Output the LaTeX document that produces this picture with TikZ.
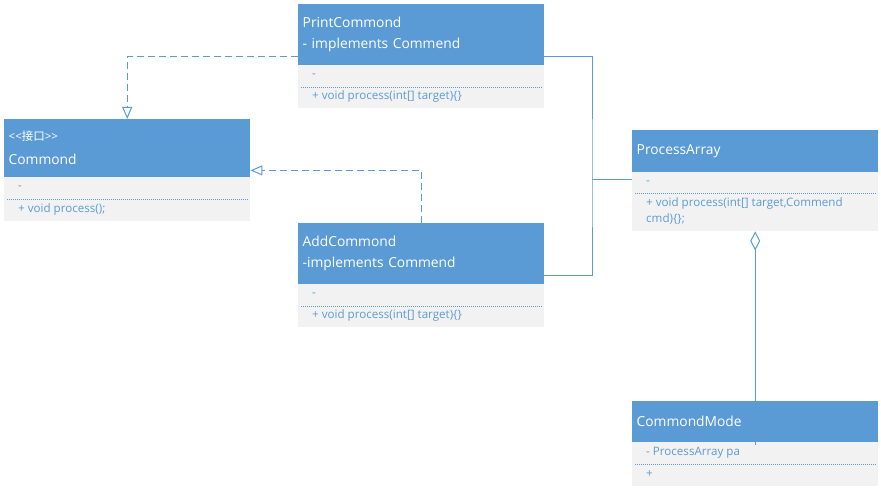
\documentclass[tikz,border=0pt]{standalone}
\usepackage{fontspec}
\setmainfont{Open Sans}
\newfontfamily\cjk{Noto Sans CJK SC}
\usetikzlibrary{arrows.meta}

\definecolor{hdblue}{HTML}{5B9BD5}
\definecolor{bdgray}{HTML}{F2F2F2}
\definecolor{lnblue}{HTML}{5B9BD5}

\tikzset{
  head/.style={anchor=north west, fill=hdblue, text=white, text width=237pt, inner xsep=4.5pt, inner ysep=0pt,
    minimum width=246pt, align=left, font=\fontsize{13.8}{21}\selectfont},
  body/.style={anchor=north west, fill=bdgray, minimum width=246pt, inner sep=0pt},
  member/.style={anchor=west, text=lnblue, inner sep=0pt, align=left, font=\fontsize{11.6}{16}\selectfont},
  sep/.style={lnblue, line width=0.8pt, dash pattern=on 1pt off 1pt},
  link/.style={lnblue, line width=1pt},
  realize/.style={link, dash pattern=on 7pt off 4pt, -{Triangle[open, length=12pt, width=10pt]}},
}

\begin{document}
\begin{tikzpicture}[x=1pt, y=-1pt]
        \useasboundingbox (0,0) rectangle (881,494);

        % interface Commond
        \node[head, minimum height=58pt] (commond) at (4,119)
          {{\fontsize{11.5}{12}\selectfont <{}<{\cjk 接口}>{}>}\\[3pt]Commond};
        \node[body, minimum height=44pt] (cmbody) at (4,177) {};
        \node[member] (cmattr) at ([xshift=14pt,yshift=-11pt]cmbody.north west) {-};
        \draw[sep] ([xshift=3pt,yshift=-22pt]cmbody.north west) -- ([xshift=-3pt,yshift=-22pt]cmbody.north east);
        \node[member] (cmop) at ([xshift=14pt,yshift=-32pt]cmbody.north west) {+ void process();};

        % PrintCommond
        \node[head, minimum height=61pt] (print) at (298,4) {PrintCommond\\- implements Commend};
        \node[body, minimum height=43pt] (printbody) at (298,65) {};
        \node[member] (printattr) at ([xshift=14pt,yshift=-11pt]printbody.north west) {-};
        \draw[sep] ([xshift=3pt,yshift=-22pt]printbody.north west) -- ([xshift=-3pt,yshift=-22pt]printbody.north east);
        \node[member] (printop) at ([xshift=14pt,yshift=-31pt]printbody.north west) {+ void process(int[] target)\{\}};

        % AddCommond
        \node[head, minimum height=61pt] (add) at (298,223) {AddCommond\\-implements Commend};
        \node[body, minimum height=43pt] (addbody) at (298,284) {};
        \node[member] (addattr) at ([xshift=14pt,yshift=-11pt]addbody.north west) {-};
        \draw[sep] ([xshift=3pt,yshift=-22pt]addbody.north west) -- ([xshift=-3pt,yshift=-22pt]addbody.north east);
        \node[member] (addop) at ([xshift=14pt,yshift=-31pt]addbody.north west) {+ void process(int[] target)\{\}};

        % ProcessArray
        \node[head, minimum height=42pt] (proc) at (632,130) {ProcessArray};
        \node[body, minimum height=59pt] (procbody) at (632,172) {};
        \node[member] (procattr) at ([xshift=14pt,yshift=-11pt]procbody.north west) {-};
        \draw[sep] ([xshift=3pt,yshift=-21pt]procbody.north west) -- ([xshift=-3pt,yshift=-21pt]procbody.north east);
        \node[member] (procop) at ([xshift=14pt,yshift=-39pt]procbody.north west)
          {+ void process(int[] target,Commend\\cmd)\{\};};

        % CommondMode
        \node[head, minimum height=41pt] (mode) at (632,401) {CommondMode};
        \node[body, minimum height=44pt] (modebody) at (632,442) {};
        \node[member] (modeattr) at ([xshift=14pt,yshift=-11pt]modebody.north west) {- ProcessArray pa};
        \draw[sep] ([xshift=3pt,yshift=-22pt]modebody.north west) -- ([xshift=-3pt,yshift=-22pt]modebody.north east);
        \node[member] (modeop) at ([xshift=14pt,yshift=-32pt]modebody.north west) {+};

        % realizations
        \draw[realize] ([yshift=9pt]print.south west) -| (commond.north);
        \draw[realize] (add.north) |- ([yshift=7pt]commond.south east);

        % associations
        \coordinate (jn) at (592,180);
        \draw[link] ([yshift=9pt]print.south east) -| (jn) |- ([yshift=9pt]add.south east);
        \draw[link] (jn) -- ([yshift=-8pt]procbody.north west);
        \draw[link, {Diamond[open, length=19pt, width=10pt]}-] (procbody.south) -- ([yshift=-3pt]mode.south);
      \end{tikzpicture}
\end{document}
